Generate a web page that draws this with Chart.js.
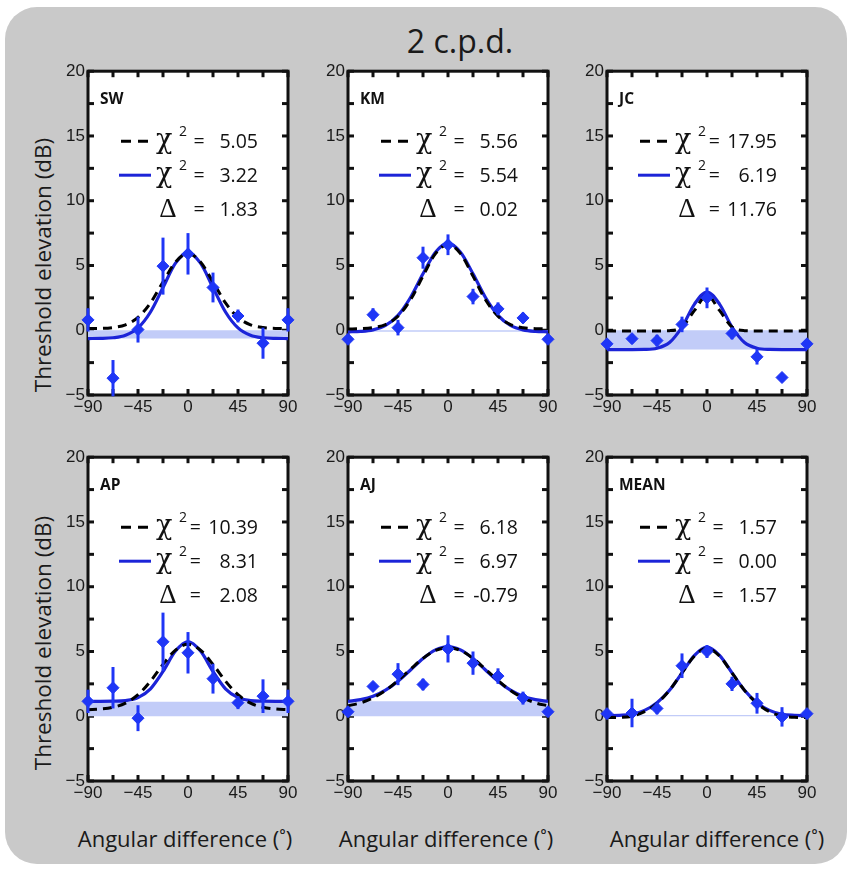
<!DOCTYPE html>
<html>
<head>
<meta charset="utf-8">
<script src="https://cdn.jsdelivr.net/npm/chart.js@4.4.1/dist/chart.umd.min.js"></script>
<style>
  body { margin: 0; width: 850px; height: 870px; position: relative; overflow: hidden; background: #fff; font-family: "Open Sans", sans-serif; color: #1a1a1a; }
  #bg { position: absolute; left: 5px; top: 7px; width: 842px; height: 857px; background: #c9c9c9; border-radius: 32px; }
  canvas { position: absolute; }
  .title { position: absolute; left: 340px; top: 21px; width: 240px; height: 40px; line-height: 40px; text-align: center; font-size: 32px; }
  .ytitle { position: absolute; width: 320px; height: 30px; line-height: 30px; text-align: center; font-size: 22.5px; transform: rotate(-90deg); }
  .xtitle { position: absolute; width: 280px; height: 30px; line-height: 30px; text-align: center; font-size: 22px; top: 823px; }
</style>
</head>
<body>
<div id="bg"></div>
<div class="title">2 c.p.d.</div>
<div class="ytitle" style="left:-117px; top:250px;">Threshold elevation (dB)</div>
<div class="ytitle" style="left:-117px; top:628px;">Threshold elevation (dB)</div>
<div class="xtitle" style="left:45px;">Angular difference (˚)</div>
<div class="xtitle" style="left:306px;">Angular difference (˚)</div>
<div class="xtitle" style="left:577px;">Angular difference (˚)</div>
<canvas id="c0" width="264" height="367" style="left:38px; top:58px;"></canvas>
<canvas id="c1" width="264" height="367" style="left:298px; top:58px;"></canvas>
<canvas id="c2" width="264" height="367" style="left:557px; top:58px;"></canvas>
<canvas id="c3" width="264" height="367" style="left:38px; top:444px;"></canvas>
<canvas id="c4" width="264" height="367" style="left:298px; top:444px;"></canvas>
<canvas id="c5" width="264" height="367" style="left:557px; top:444px;"></canvas>
<script>
/* global Chart */

const subjects = ['SW', 'KM', 'JC', 'AP', 'AJ', 'MEAN']
const angles = [-90, -67.5, -45, -22.5, 0, 22.5, 45, 67.5, 90]
const fitAngles = [-90, -78.75, -67.5, -56.25, -45, -33.75, -22.5, -11.25, 0,
  11.25, 22.5, 33.75, 45, 56.25, 67.5, 78.75, 90]
const xLabelTicks = [-90, -45, 0, 45, 90]
const yLabelTicks = [-5, 0, 5, 10, 15, 20]

// measured thresholds and error bars (dB)
const swMean = [0.8, -3.7, 0.05, 4.95, 5.9, 3.3, 1.1, -1.0, 0.8]
const swErr = [0.9, 1.4, 1.0, 2.2, 1.6, 1.15, 0.5, 1.2, 0.9]
const kmMean = [-0.7, 1.2, 0.2, 5.6, 6.6, 2.6, 1.65, 0.95, -0.7]
const kmErr = [0.3, 0.5, 0.6, 0.85, 0.8, 0.6, 0.5, 0.4, 0.3]
const jcMean = [-1.05, -0.65, -0.8, 0.45, 2.5, -0.25, -2.05, -3.65, -1.05]
const jcErr = [0.3, 0.35, 0.45, 0.6, 0.8, 0.45, 0.6, 0.3, 0.3]
const apMean = [1.15, 2.2, -0.15, 5.75, 4.9, 2.9, 1.05, 1.55, 1.15]
const apErr = [0.9, 1.6, 1.0, 2.25, 1.6, 1.15, 0.5, 1.3, 0.9]
const ajMean = [0.35, 2.3, 3.25, 2.45, 5.2, 4.1, 3.1, 1.4, 0.35]
const ajErr = [0.3, 0.3, 0.85, 0.45, 1.05, 0.9, 0.6, 0.5, 0.3]
const avgMean = [0.2, 0.25, 0.6, 3.9, 5.0, 2.5, 1.0, -0.05, 0.2]
const avgErr = [0.2, 1.1, 0.45, 0.95, 0.5, 0.55, 0.8, 0.75, 0.2]

// fitted curves (solid = with baseline, dashed = baseline 0 model)
const swFit = [-0.64, -0.63, -0.58, -0.39, 0.18, 1.41, 3.3, 5.18, 6.0, 5.18, 3.3, 1.41, 0.18, -0.39, -0.58, -0.63, -0.64]
const swNull = [0.13, 0.14, 0.21, 0.42, 0.99, 2.11, 3.73, 5.27, 5.93, 5.27, 3.73, 2.11, 0.99, 0.42, 0.21, 0.14, 0.13]
const kmFit = [-0.12, -0.09, 0.03, 0.37, 1.15, 2.53, 4.36, 6.02, 6.7, 6.02, 4.36, 2.53, 1.15, 0.37, 0.03, -0.09, -0.12]
const kmNull = [0.1, 0.12, 0.2, 0.44, 1.08, 2.35, 4.18, 5.92, 6.62, 5.92, 4.18, 2.35, 1.08, 0.44, 0.2, 0.12, 0.1]
const jcFit = [-1.49, -1.49, -1.49, -1.48, -1.39, -0.95, 0.25, 2.02, 2.95, 2.02, 0.25, -0.95, -1.39, -1.48, -1.49, -1.49, -1.49]
const jcNull = [-0.05, -0.05, -0.05, -0.05, -0.05, -0.03, 0.25, 1.53, 2.7, 1.53, 0.25, -0.03, -0.05, -0.05, -0.05, -0.05, -0.05]
const apFit = [1.15, 1.15, 1.16, 1.21, 1.44, 2.12, 3.46, 5.03, 5.77, 5.03, 3.46, 2.12, 1.44, 1.21, 1.16, 1.15, 1.15]
const apNull = [0.51, 0.56, 0.69, 1.01, 1.66, 2.71, 4.0, 5.11, 5.55, 5.11, 4.0, 2.71, 1.66, 1.01, 0.69, 0.56, 0.51]
const ajFit = [1.14, 1.28, 1.54, 2.01, 2.7, 3.57, 4.45, 5.12, 5.38, 5.12, 4.45, 3.57, 2.7, 2.01, 1.54, 1.28, 1.14]
const ajNull = [0.81, 1.03, 1.41, 1.99, 2.76, 3.63, 4.47, 5.08, 5.3, 5.08, 4.47, 3.63, 2.76, 1.99, 1.41, 1.03, 0.81]
const avgFit = [0.05, 0.07, 0.15, 0.45, 1.05, 2.0, 3.35, 4.7, 5.33, 4.7, 3.35, 2.0, 1.05, 0.45, 0.15, 0.07, 0.05]
const avgNull = [-0.1, -0.08, 0.0, 0.35, 1.0, 2.0, 3.35, 4.65, 5.25, 4.65, 3.35, 2.0, 1.0, 0.35, 0.0, -0.08, -0.1]

// shaded baseline band (0 to fitted baseline)
const bandLevel = [-0.64, -0.12, -1.49, 1.12, 1.15, 0.1]

// goodness of fit numbers
const chiNull = [5.05, 5.56, 17.95, 10.39, 6.18, 1.57]
const chiFit = [3.22, 5.54, 6.19, 8.31, 6.97, 0.00]
const deltas = [1.83, 0.02, 11.76, 2.08, -0.79, 1.57]

const means = [swMean, kmMean, jcMean, apMean, ajMean, avgMean]
const errs = [swErr, kmErr, jcErr, apErr, ajErr, avgErr]
const fits = [swFit, kmFit, jcFit, apFit, ajFit, avgFit]
const nulls = [swNull, kmNull, jcNull, apNull, ajNull, avgNull]

const BLUE_LINE = '#1c24d8'
const BLUE_MARK = '#1f36f6'
const BAND = 'rgb(194,204,248)'
const NUM_FONT = '19.5px "Open Sans"'

const toXY = (xs, ys) => xs.map((x, i) => ({x, y: ys[i]}))
const minus = (v) => String(v).replace('-', '\u2212')

function line (ctx, x1, y1, x2, y2) {
  ctx.beginPath()
  ctx.moveTo(x1, y1)
  ctx.lineTo(x2, y2)
  ctx.stroke()
}

function panelPlugin (i) {
  return {
    id: 'panel' + i,
    beforeDraw (chart) {
      const {ctx, chartArea: a} = chart
      ctx.save()
      ctx.fillStyle = '#fff'
      ctx.fillRect(a.left, a.top, a.width, a.height)
      ctx.restore()
    },
    beforeDatasetsDraw (chart) {
      const {ctx, chartArea: a, scales: {x, y}} = chart
      ctx.save()
      ctx.strokeStyle = '#111'
      ctx.lineWidth = 3
      const tl = 6
      y.ticks.forEach((t) => {
        const py = y.getPixelForValue(t.value)
        line(ctx, a.left, py, a.left + tl, py)
        line(ctx, a.right - tl, py, a.right, py)
      })
      x.ticks.forEach((t) => {
        const px = x.getPixelForValue(t.value)
        line(ctx, px, a.top, px, a.top + tl)
        line(ctx, px, a.bottom - tl, px, a.bottom)
      })
      ctx.strokeRect(a.left, a.top, a.width, a.height)
      ctx.restore()
    },
    afterDatasetsDraw (chart) {
      const {ctx, scales: {x, y}} = chart
      ctx.save()
      ctx.strokeStyle = BLUE_MARK
      ctx.lineWidth = 3
      angles.forEach((ang, k) => {
        const px = x.getPixelForValue(ang)
        line(ctx, px, y.getPixelForValue(means[i][k] + errs[i][k]),
          px, y.getPixelForValue(means[i][k] - errs[i][k]))
      })
      ctx.restore()
    },
    afterDraw (chart) {
      const {ctx, chartArea: a} = chart
      const L = a.left
      const T = a.top
      const rows = [T + 70, T + 104, T + 138]
      const right = L + 170
      ctx.save()
      ctx.fillStyle = '#111'
      ctx.textBaseline = 'alphabetic'
      ctx.textAlign = 'left'
      ctx.font = 'bold 15.5px "Open Sans"'
      ctx.fillText(subjects[i], L + 12, T + 33)

      ctx.lineWidth = 3
      ctx.strokeStyle = '#000'
      ctx.setLineDash([10, 7])
      line(ctx, L + 33, rows[0], L + 63, rows[0])
      ctx.setLineDash([])
      ctx.strokeStyle = BLUE_LINE
      line(ctx, L + 31, rows[1], L + 63, rows[1])

      const nums = [chiNull[i], chiFit[i], deltas[i]].map((v) => v.toFixed(2))
      ctx.font = NUM_FONT
      const maxW = Math.max(...nums.map((s) => ctx.measureText(s).width))
      const eqX = Math.min(L + 111, right - maxW - 13)

      ctx.font = '27px "DejaVu Serif"'
      ctx.fillText('\u03c7', L + 68, rows[0] + 7)
      ctx.fillText('\u03c7', L + 68, rows[1] + 7)
      ctx.textAlign = 'center'
      ctx.font = '27px "Liberation Serif"'
      ctx.fillText('\u0394', L + 80, rows[2] + 8)
      ctx.textAlign = 'left'
      ctx.font = '14px "Open Sans"'
      ctx.fillText('2', L + 91, rows[0] - 5)
      ctx.fillText('2', L + 91, rows[1] - 5)

      ctx.font = NUM_FONT
      rows.forEach((ry, k) => {
        ctx.textAlign = 'center'
        ctx.fillText('=', eqX, ry + 7)
        ctx.textAlign = 'right'
        ctx.fillText(nums[k], right, ry + 7)
      })
      ctx.restore()
    }
  }
}

function makePanel (i) {
  const ctx = document.getElementById('c' + i).getContext('2d')
  return new Chart(ctx, {
    type: 'line',
    data: {
      datasets: [
        {
          data: toXY(angles, means[i]),
          showLine: false,
          pointStyle: 'rectRot',
          pointRadius: 6,
          backgroundColor: BLUE_MARK,
          borderColor: BLUE_MARK,
          borderWidth: 1,
          clip: false,
          order: 0,
        },
        {
          data: toXY(fitAngles, nulls[i]),
          borderColor: '#000',
          borderWidth: 3,
          borderDash: [9, 6],
          pointRadius: 0,
          cubicInterpolationMode: 'monotone',
          fill: false,
          order: 1,
        },
        {
          data: toXY(fitAngles, fits[i]),
          borderColor: BLUE_LINE,
          borderWidth: 3.2,
          pointRadius: 0,
          cubicInterpolationMode: 'monotone',
          fill: false,
          order: 2,
        },
        {
          data: toXY([-90, 90], [bandLevel[i], bandLevel[i]]),
          borderWidth: 0,
          borderColor: 'rgba(0,0,0,0)',
          pointRadius: 0,
          backgroundColor: BAND,
          fill: {value: 0},
          order: 3,
        },
      ],
    },
    options: {
      responsive: false,
      animation: false,
      events: [],
      layout: {padding: {top: 12, right: 14, left: 0, bottom: 0}},
      plugins: {legend: {display: false}, tooltip: {enabled: false}},
      scales: {
        x: {
          type: 'linear',
          min: -90,
          max: 90,
          afterFit: (s) => { s.height = 30 },
          grid: {display: false, drawTicks: false},
          border: {display: false},
          ticks: {
            stepSize: 22.5,
            autoSkip: false,
            maxRotation: 0,
            padding: 2,
            color: '#1a1a1a',
            font: {family: 'Liberation Sans', size: 17},
            callback: (v) => xLabelTicks.includes(v) ? minus(v) : '',
          },
        },
        y: {
          min: -5,
          max: 20,
          afterFit: (s) => { s.width = 50 },
          grid: {display: false, drawTicks: false},
          border: {display: false},
          ticks: {
            stepSize: 2.5,
            autoSkip: false,
            padding: 3,
            color: '#1a1a1a',
            font: {family: 'Liberation Sans', size: 17},
            callback: (v) => yLabelTicks.includes(v) ? minus(v) : '',
          },
        },
      },
    },
    plugins: [panelPlugin(i)],
  })
}

subjects.forEach((name, i) => makePanel(i))
</script>
</body>
</html>
